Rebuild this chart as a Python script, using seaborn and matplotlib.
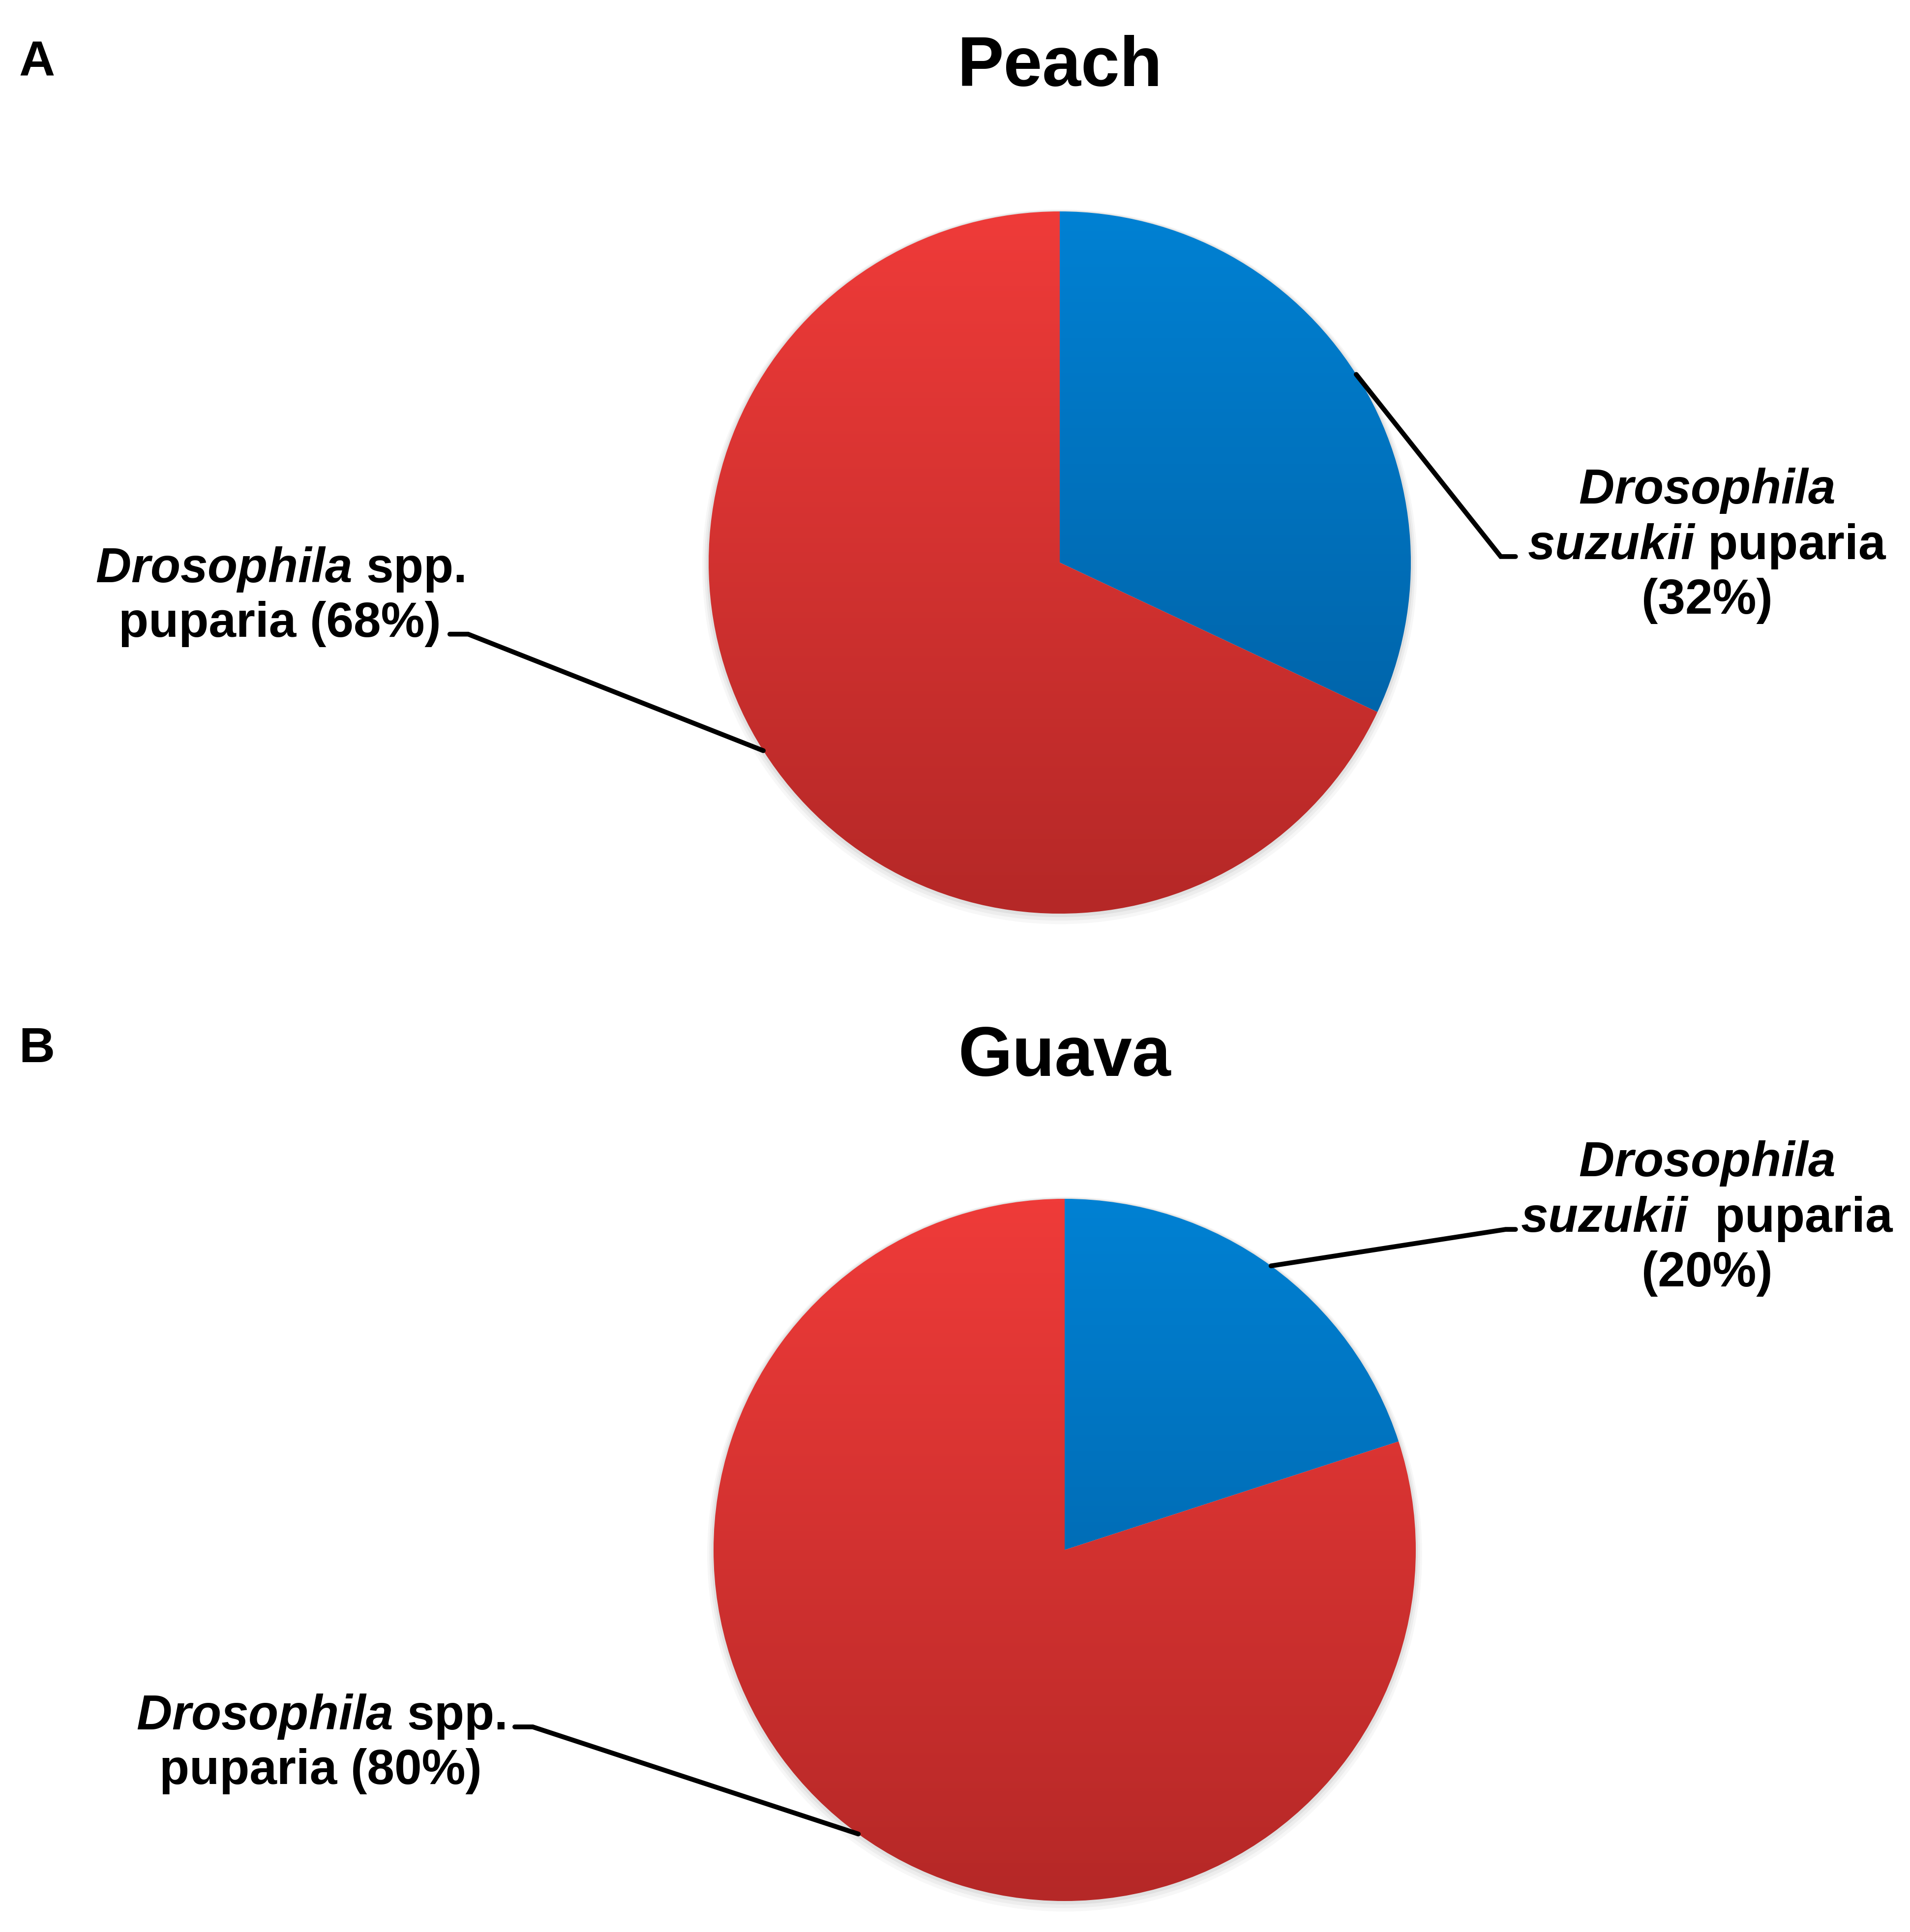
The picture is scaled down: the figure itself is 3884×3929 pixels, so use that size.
import numpy as np
import matplotlib.pyplot as plt
import seaborn as sns

# values
panel_letters = ["A", "B"]
fruits = ["Peach", "Guava"]
suzukii_pct = [32, 20]
spp_pct = [68, 80]
suzukii_gap = [" ", "  "]

blue_top, blue_bottom = "#0081d3", "#005a9b"
red_top, red_bottom = "#ef3b39", "#b52827"

sns.set_style("white")
plt.rcParams["font.family"] = ["Liberation Sans", "DejaVu Sans"]
plt.rcParams["font.weight"] = "bold"
plt.rcParams["text.color"] = "black"
plt.rcParams["mathtext.fontset"] = "custom"
plt.rcParams["mathtext.it"] = "Liberation Sans:italic:bold"
plt.rcParams["mathtext.rm"] = "Liberation Sans:bold"
plt.rcParams["mathtext.bf"] = "Liberation Sans:bold"

W, H, DPI = 3884, 3930, 100
R = 714  # pie radius, px

# layout (pixels for the pie, radius units for the rest)
layout = [
    dict(center=(2155, 1145), band=(0, 1965), letter_y=155, title_y=1.359,
         suz_text=(1.843, -0.144), suz_elbow=(1.256, 0.017), suz_end=(1.298, 0.017),
         spp_text=(-2.221, -0.21), spp_elbow=(-1.685, -0.204), spp_end=(-1.737, -0.204)),
    dict(center=(2165, 3153), band=(1965, 3930), letter_y=2160, title_y=1.352,
         suz_text=(1.829, 0.752), suz_elbow=(1.256, 0.913), suz_end=(1.284, 0.913),
         spp_text=(-2.119, -0.665), spp_elbow=(-1.515, -0.504), spp_end=(-1.566, -0.504)),
]

blue_cmap = sns.blend_palette([blue_top, blue_bottom], n_colors=256, as_cmap=True)
red_cmap = sns.blend_palette([red_top, red_bottom], n_colors=256, as_cmap=True)
gradient = np.linspace(0, 1, 256).reshape(-1, 1)

fig = plt.figure(figsize=(W / DPI, H / DPI), dpi=DPI)
fig.patch.set_facecolor("white")

for i, lay in enumerate(layout):
    cx, cy = lay["center"]
    top, bottom = lay["band"]
    ax = fig.add_axes([0, 1 - bottom / H, 1, (bottom - top) / H])
    vals = [suzukii_pct[i], spp_pct[i]]

    # soft shadow
    for k, a in enumerate([0.05, 0.04, 0.03]):
        ax.pie(vals, radius=1 + 0.006 * (k + 1), center=(0, -0.004 * (k + 1)),
               startangle=90, counterclock=False, colors=["#000000"] * 2,
               wedgeprops=dict(linewidth=0, alpha=a))

    wedges, _ = ax.pie(vals, radius=1, startangle=90, counterclock=False,
                       colors=["none", "none"], wedgeprops=dict(linewidth=0))
    for w, cmap in zip(wedges, [blue_cmap, red_cmap]):
        im = ax.imshow(gradient, cmap=cmap, extent=(-1, 1, -1, 1), aspect="auto",
                       origin="upper", zorder=3)
        im.set_clip_path(w)

    ax.set_aspect("auto")
    ax.set_xlim(-cx / R, (W - cx) / R)
    ax.set_ylim(-(bottom - cy) / R, (cy - top) / R)
    ax.axis("off")

    # leader lines from the middle of each wedge
    for w, el, en in [(wedges[0], lay["suz_elbow"], lay["suz_end"]),
                      (wedges[1], lay["spp_elbow"], lay["spp_end"])]:
        mid = np.deg2rad((w.theta1 + w.theta2) / 2)
        ax.plot([np.cos(mid), el[0], en[0]], [np.sin(mid), el[1], en[1]],
                color="black", lw=7, solid_joinstyle="miter", zorder=4)

    suz_label = (r"$\mathit{Drosophila}$" + "\n" + r"$\mathit{suzukii}$"
                 + suzukii_gap[i] + "puparia\n" + f"({suzukii_pct[i]}%)")
    spp_label = r"$\mathit{Drosophila}$" + " spp.\n" + f"puparia ({spp_pct[i]}%)"
    ax.text(*lay["suz_text"], suz_label, ha="center", va="baseline",
            multialignment="center", fontsize=72, fontweight="bold")
    ax.text(*lay["spp_text"], spp_label, ha="center", va="baseline",
            multialignment="center", fontsize=72, fontweight="bold")

    ax.text(0, lay["title_y"], fruits[i], ha="center", va="baseline",
            fontsize=102, fontweight="bold")
    fig.text(38 / W, 1 - lay["letter_y"] / H, panel_letters[i], ha="left",
             va="baseline", fontsize=73, fontweight="bold")

fig.savefig("out.png", dpi=DPI, facecolor="white")
